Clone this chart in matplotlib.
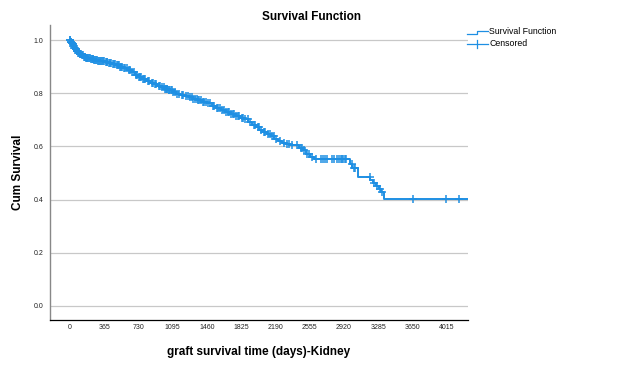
import numpy as np
import matplotlib
matplotlib.use('Agg')
import matplotlib.pyplot as plt
from matplotlib.lines import Line2D

plt.rcParams['font.family'] = ['Liberation Sans', 'DejaVu Sans']

# Kaplan-Meier steps (days, cumulative survival)
event_days = [0, 8, 15, 25, 35, 45, 55, 70, 85, 100, 120, 140, 165, 190, 220, 255, 290,
              330, 370, 410, 450, 490, 530, 570, 610, 650, 690, 730, 770, 810, 850, 890,
              930, 970, 1010, 1050, 1090, 1130, 1175, 1220, 1265, 1310, 1360, 1410, 1460,
              1510, 1560, 1610, 1660, 1710, 1760, 1810, 1860, 1900, 1940, 1980, 2020, 2060,
              2100, 2140, 2180, 2220, 2260, 2300, 2350, 2400, 2440, 2480, 2520, 2560, 2600,
              2985, 3010, 3075, 3200, 3230, 3260, 3290, 3320, 3350]
surv = [1.0, 0.995, 0.99, 0.985, 0.979, 0.973, 0.967, 0.96, 0.953, 0.948, 0.943, 0.939,
        0.935, 0.932, 0.929, 0.926, 0.924, 0.921, 0.918, 0.915, 0.912, 0.907, 0.901, 0.894,
        0.887, 0.879, 0.871, 0.863, 0.856, 0.848, 0.841, 0.835, 0.829, 0.824, 0.818, 0.811,
        0.805, 0.799, 0.794, 0.789, 0.785, 0.78, 0.774, 0.768, 0.762, 0.754, 0.746, 0.737,
        0.729, 0.722, 0.715, 0.709, 0.702, 0.692, 0.681, 0.672, 0.662, 0.654, 0.646, 0.638,
        0.63, 0.621, 0.613, 0.61, 0.607, 0.604, 0.596, 0.585, 0.572, 0.56, 0.552, 0.535,
        0.52, 0.486, 0.475, 0.463, 0.452, 0.44, 0.43, 0.403]
last_day = 4250

censored_days = [2, 5, 9, 12, 18, 22, 28, 30, 38, 40, 48, 52, 60, 66, 75, 80, 90, 95, 105,
                 110, 118, 130, 137, 150, 156, 160, 172, 180, 185, 195, 200, 212, 225, 235,
                 242, 248, 262, 270, 275, 285, 300, 310, 318, 328, 340, 355, 365, 380, 392,
                 400, 415, 425, 440, 458, 470, 485, 500, 512, 520, 535, 545, 560, 578, 590,
                 605, 625, 640, 660, 680, 700, 720, 732, 745, 760, 778, 790, 805, 830, 845,
                 870, 885, 905, 920, 945, 960, 985, 1000, 1012, 1020, 1030, 1040, 1052, 1060,
                 1075, 1085, 1100, 1120, 1140, 1160, 1190, 1210, 1240, 1255, 1280, 1300, 1315,
                 1330, 1350, 1365, 1380, 1400, 1420, 1430, 1450, 1470, 1490, 1520, 1540, 1565,
                 1580, 1600, 1625, 1640, 1665, 1680, 1700, 1720, 1735, 1745, 1770, 1790, 1805,
                 1830, 1850, 1870, 1895, 1920, 1960, 1975, 2000, 2015, 2040, 2065, 2080, 2110,
                 2130, 2150, 2175, 2200, 2240, 2280, 2310, 2330, 2370, 2420, 2460, 2475, 2500,
                 2530, 2545, 2580, 2620, 2680, 2700, 2720, 2745, 2790, 2820, 2850, 2870, 2885,
                 2900, 2915, 2930, 2945, 3005, 3025, 3040, 3198, 3240, 3270, 3300, 3330, 3660,
                 4005, 4150]

xticks = [0, 365, 730, 1095, 1460, 1825, 2190, 2555, 2920, 3285, 3650, 4015]
yticks = [0.0, 0.2, 0.4, 0.6, 0.8, 1.0]

blue = '#1e8fe3'

fig = plt.figure(figsize=(6.24, 3.67), dpi=100)
ax = fig.add_axes([0.080, 0.128, 0.670, 0.804])

t = np.array(event_days + [last_day])
s = np.array(surv + [surv[-1]])
ax.step(t, s, where='post', color=blue, lw=1.4, zorder=3)

c = np.array(censored_days)
cs = np.array(surv)[np.searchsorted(event_days, c, side='right') - 1]
ax.plot(c, cs, ls='none', marker='+', ms=5.5, mew=1.1, color=blue, zorder=4)

ax.set_xlim(-213, 4243)
ax.set_ylim(-0.054, 1.058)
ax.set_xticks(xticks)
ax.set_xticklabels([str(v) for v in xticks])
ax.set_yticks(yticks)
ax.set_yticklabels(['%.1f' % v for v in yticks])
ax.tick_params(length=0, labelsize=5, colors='#222222')
ax.tick_params(axis='y', pad=4.5)
ax.tick_params(axis='x', pad=3)
ax.yaxis.grid(True, color='#c8c8c8', lw=0.9)
ax.set_axisbelow(True)
for side in ['top', 'right']:
    ax.spines[side].set_visible(False)
ax.spines['left'].set_color('#888888')
ax.spines['left'].set_linewidth(1.0)
ax.spines['bottom'].set_color('black')
ax.spines['bottom'].set_linewidth(0.9)

ax.set_xlabel('graft survival time (days)-Kidney', fontsize=8.5, fontweight='bold')
ax.xaxis.set_label_coords(0.5, -(346 - 320) / 295.0, transform=ax.transAxes)
ax.set_ylabel('Cum Survival', fontsize=8.5, fontweight='bold')
ax.yaxis.set_label_coords(-(50 - 24) / 418.0, 0.5, transform=ax.transAxes)
fig.text(0.5, 1 - 16.5 / 367, 'Survival Function', ha='center', va='center',
         fontsize=8.5, fontweight='bold')

# legend drawn in figure pixels
H = 367.0
def fx(px):
    return px / 624.0
def fy(py):
    return 1 - py / H

fig.add_artist(Line2D([fx(467), fx(477), fx(477), fx(488)], [fy(34), fy(34), fy(30.5), fy(30.5)],
                      color=blue, lw=0.9))
fig.add_artist(Line2D([fx(467), fx(488)], [fy(43.5), fy(43.5)], color=blue, lw=0.9))
fig.add_artist(Line2D([fx(477), fx(477)], [fy(39.5), fy(47.5)], color=blue, lw=0.9))
fig.text(fx(489), fy(31.5), 'Survival Function', ha='left', va='center', fontsize=6.3)
fig.text(fx(489), fy(43.5), 'Censored', ha='left', va='center', fontsize=6.3)

fig.savefig('out.png', dpi=100)
